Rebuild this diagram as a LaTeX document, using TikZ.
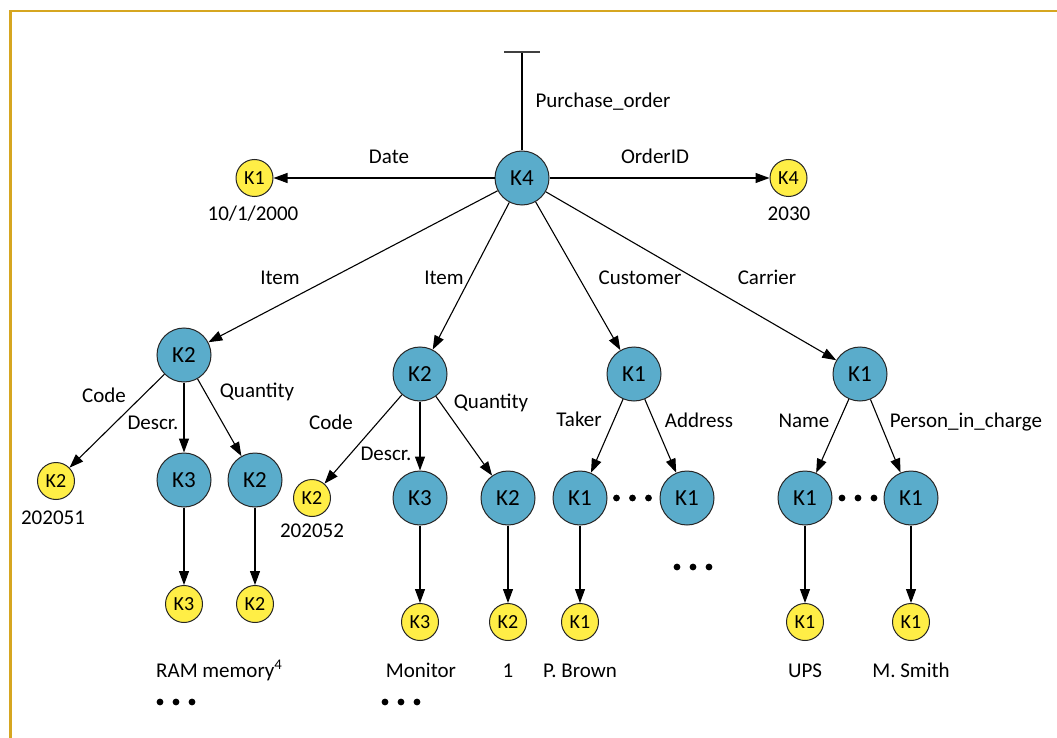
\documentclass[tikz,border=0pt]{standalone}
\usepackage{fontspec}
\setmainfont{Carlito}
\usetikzlibrary{arrows.meta}
\definecolor{nodeblue}{RGB}{90,172,203}
\definecolor{nodeyellow}{RGB}{255,238,70}
\definecolor{framegold}{RGB}{214,166,32}
\tikzset{
  bnode/.style={circle, draw=black!85, line width=1pt, fill=nodeblue, minimum size=54pt, inner sep=0pt, font=\fontsize{23}{26}\selectfont},
  ynode/.style={circle, draw=black!85, line width=1pt, fill=nodeyellow, minimum size=37pt, inner sep=0pt, font=\fontsize{20}{23}\selectfont},
  lbl/.style={anchor=base, inner sep=0pt, font=\fontsize{21}{24}\selectfont},
  conn/.style={line width=1.1pt, -{Triangle[length=14pt,width=10pt]}},
  dotc/.style={fill=black}
}
\newcommand{\threedots}[2]{\foreach \dx in {-16,0,16} {\fill ({#1+\dx},#2) circle (3.4pt);}}
\begin{document}
\begin{tikzpicture}[x=1pt,y=-1pt]
\useasboundingbox (0,0) rectangle (1057,738);
% frame
\draw[framegold, line width=2.6pt] (10.5,738) -- (10.5,11) -- (1057,11);

% root
\node[bnode] (K4) at (522,178) {K4};
\coordinate (root) at (522,52);
\coordinate (barL) at (504,52);
\coordinate (barR) at (540,52);
\draw[line width=1.1pt] (K4) -- (root);
\draw[line width=1.4pt, black!75] (barL) -- (barR);
\node[lbl] (lpo) at (603,108) {Purchase\_order};

\node[ynode] (yD) at (254.5,178) {K1};
\node[ynode] (yO) at (788.5,178) {K4};
\draw[conn] (K4) -- (yD);
\draw[conn] (K4) -- (yO);
\node[lbl] (ldate) at (389,164) {Date};
\node[lbl] (loid) at (655,164) {OrderID};
\node[lbl] (vdate) at (253,221) {10/1/2000};
\node[lbl] (void) at (789,221) {2030};

% level 2
\node[bnode] (A) at (184,355) {K2};
\node[bnode] (B) at (420,374) {K2};
\node[bnode] (C) at (634,374) {K1};
\node[bnode] (D) at (860,374) {K1};
\draw[conn] (K4) -- (A);
\draw[conn] (K4) -- (B);
\draw[conn] (K4) -- (C);
\draw[conn] (K4) -- (D);
\node[lbl] (litem1) at (280,284) {Item};
\node[lbl] (litem2) at (444,284) {Item};
\node[lbl] (lcust) at (640,284) {Customer};
\node[lbl] (lcarr) at (767,284) {Carrier};

% subtree A
\node[ynode] (A1) at (56,481) {K2};
\node[bnode] (A2) at (184,480) {K3};
\node[bnode] (A3) at (255,480) {K2};
\node[ynode] (A2y) at (184,604) {K3};
\node[ynode] (A3y) at (255,604) {K2};
\draw[conn] (A) -- (A1);
\draw[conn] (A) -- (A2);
\draw[conn] (A) -- (A3);
\draw[conn] (A2) -- (A2y);
\draw[conn] (A3) -- (A3y);
\node[lbl] (lcodeA) at (104,402) {Code};
\node[lbl] (ldescA) at (153,429) {Descr.};
\node[lbl] (lqtyA) at (257,397) {Quantity};
\node[lbl] (vcodeA) at (53,524) {202051};
\node[lbl, anchor=base west] (vram) at (156,677) {RAM memory\textsuperscript{4}};
\threedots{176}{702}

% subtree B
\node[ynode] (B1) at (312,498) {K2};
\node[bnode] (B2) at (420,498) {K3};
\node[bnode] (B3) at (508,498) {K2};
\node[ynode] (B2y) at (420,622) {K3};
\node[ynode] (B3y) at (508,622) {K2};
\draw[conn] (B) -- (B1);
\draw[conn] (B) -- (B2);
\draw[conn] (B) -- (B3);
\draw[conn] (B2) -- (B2y);
\draw[conn] (B3) -- (B3y);
\node[lbl] (lcodeB) at (331,429) {Code};
\node[lbl] (ldescB) at (386,460) {Descr.};
\node[lbl] (lqtyB) at (491,408) {Quantity};
\node[lbl] (vcodeB) at (312,537) {202052};
\node[lbl] (vmon) at (421,677) {Monitor};
\node[lbl] (vone) at (508,677) {1};
\threedots{401}{702}

% subtree C
\node[bnode] (C1) at (580,498) {K1};
\node[bnode] (C2) at (687,498) {K1};
\node[ynode] (C1y) at (580,622) {K1};
\draw[conn] (C) -- (C1);
\draw[conn] (C) -- (C2);
\draw[conn] (C1) -- (C1y);
\node[lbl] (ltaker) at (579,426) {Taker};
\node[lbl] (laddr) at (699,427) {Address};
\node[lbl] (vbrown) at (580,677) {P. Brown};
\threedots{632.5}{498}
\threedots{693}{567}

% subtree D
\node[bnode] (D1) at (805,498) {K1};
\node[bnode] (D2) at (911,498) {K1};
\node[ynode] (D1y) at (805,622) {K1};
\node[ynode] (D2y) at (911,622) {K1};
\draw[conn] (D) -- (D1);
\draw[conn] (D) -- (D2);
\draw[conn] (D1) -- (D1y);
\draw[conn] (D2) -- (D2y);
\node[lbl] (lname) at (804,427) {Name};
\node[lbl] (lpic) at (966,427) {Person\_in\_charge};
\node[lbl] (vups) at (805,677) {UPS};
\node[lbl] (vsmith) at (911,677) {M. Smith};
\threedots{858}{498}
\end{tikzpicture}
\end{document}
